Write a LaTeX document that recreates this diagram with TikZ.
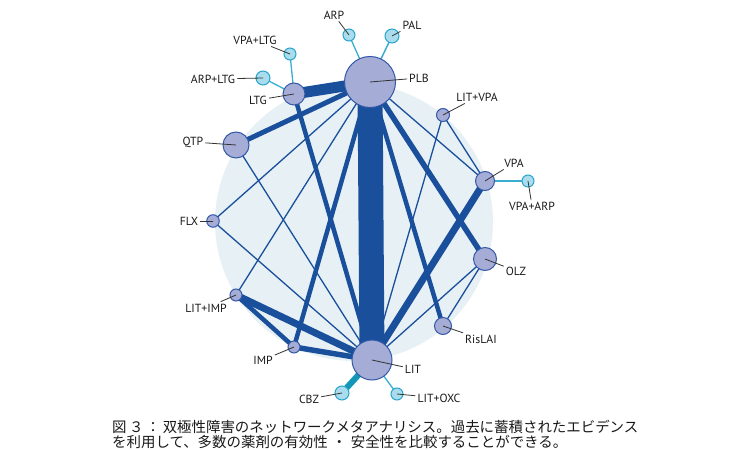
\documentclass[tikz,border=0pt]{standalone}
\usepackage{fontspec}
\setmainfont{PT Sans}
\newfontfamily\jpfont{Noto Sans CJK JP}
\usepackage{xcolor}
\definecolor{netblue}{HTML}{1A4F9C}
\definecolor{nodefill}{HTML}{A5ACD6}
\definecolor{nodeline}{HTML}{3358A8}
\definecolor{addfill}{HTML}{A9DCEC}
\definecolor{addline}{HTML}{2AA4CA}
\definecolor{addedge}{HTML}{3AAED0}
\definecolor{tealedge}{HTML}{1397B8}
\definecolor{backcirc}{HTML}{E7F1F5}
\pgfdeclarelayer{back}
\pgfdeclarelayer{edges}
\pgfsetlayers{back,edges,main}
\tikzset{
  drug/.style={circle,fill=nodefill,draw=nodeline,line width=1bp,inner sep=0pt},
  adddrug/.style={circle,fill=addfill,draw=addline,line width=1bp,inner sep=0pt},
  link/.style={draw=netblue,line width=#1},
  link/.default=1.3bp,
  addlink/.style={draw=addedge,line width=#1},
  addlink/.default=1.3bp,
  lab/.style={font=\fontsize{11.8}{13}\selectfont,text=black!90,inner sep=2bp},
  lead/.style={draw=black!80,line width=0.8bp}
}

\begin{document}
\begin{tikzpicture}[x=1bp,y=-1bp]
\useasboundingbox (0,0) rectangle (750,450);

% treatments
\node[drug,minimum size=51bp] (PLB) at (370,82) {};
\node[drug,minimum size=40bp] (LIT) at (372,360) {};
\node[drug,minimum size=22bp] (LTG) at (294,94) {};
\node[drug,minimum size=26bp] (QTP) at (236,145) {};
\node[drug,minimum size=12.5bp] (FLX) at (213,221) {};
\node[drug,minimum size=12bp] (LITIMP) at (236,295) {};
\node[drug,minimum size=12bp] (IMP) at (294,347) {};
\node[drug,minimum size=13bp] (LITVPA) at (443,115) {};
\node[drug,minimum size=19bp] (VPA) at (485,181) {};
\node[drug,minimum size=23bp] (OLZ) at (485,259) {};
\node[drug,minimum size=17bp] (RisLAI) at (443,326) {};
\node[adddrug,minimum size=12bp] (ARP) at (349,35) {};
\node[adddrug,minimum size=14bp] (PAL) at (392,36) {};
\node[adddrug,minimum size=12bp] (VPALTG) at (290,54) {};
\node[adddrug,minimum size=14bp] (ARPLTG) at (263,78) {};
\node[adddrug,minimum size=12bp] (VPAARP) at (528,181) {};
\node[adddrug,minimum size=14bp] (CBZ) at (342,393) {};
\node[adddrug,minimum size=12bp] (LITOXC) at (397,394) {};

\begin{pgfonlayer}{back}
\fill[backcirc] (354,222) circle[radius=139bp];
\end{pgfonlayer}

\begin{pgfonlayer}{edges}
\draw[link=25bp] (PLB.center) -- (LIT.center);
\draw[link=11bp] (PLB.center) -- (LTG.center);
\draw[link=5bp] (PLB.center) -- (QTP.center);
\draw[link] (PLB.center) -- (FLX.center);
\draw[link] (PLB.center) -- (LITIMP.center);
\draw[link=4.5bp] (PLB.center) -- (IMP.center);
\draw[link] (PLB.center) -- (VPA.center);
\draw[link=5.5bp] (PLB.center) -- (OLZ.center);
\draw[link=4.5bp] (PLB.center) -- (RisLAI.center);
\draw[link=4.5bp] (LTG.center) -- (LIT.center);
\draw[link] (QTP.center) -- (LIT.center);
\draw[link] (FLX.center) -- (LIT.center);
\draw[link=7bp] (LITIMP.center) -- (LIT.center);
\draw[link=4.5bp] (LITIMP.center) -- (IMP.center);
\draw[link=5.5bp] (IMP.center) -- (LIT.center);
\draw[link] (LITVPA.center) -- (VPA.center);
\draw[link] (LITVPA.center) -- (LIT.center);
\draw[link=7bp] (VPA.center) -- (LIT.center);
\draw[link] (OLZ.center) -- (LIT.center);
\draw[link] (OLZ.center) -- (RisLAI.center);
% add-on arms
\draw[addlink] (PLB.center) -- (ARP.center);
\draw[addlink=1.5bp] (PLB.center) -- (PAL.center);
\draw[addlink] (LTG.center) -- (VPALTG.center);
\draw[addlink] (LTG.center) -- (ARPLTG.center);
\draw[addlink=1.5bp] (VPA.center) -- (VPAARP.center);
\draw[draw=tealedge,line width=6bp] (LIT.center) -- (CBZ.center);
\draw[addlink] (LIT.center) -- (LITOXC.center);
\end{pgfonlayer}

% labels
\node[lab] (tPLB) at (419,78) {PLB};
\node[lab] (tLIT) at (413,369) {LIT};
\node[lab] (tLTG) at (258,100) {LTG};
\node[lab] (tQTP) at (193,142) {QTP};
\node[lab] (tFLX) at (189,221) {FLX};
\node[lab] (tLITIMP) at (206,308) {LIT+IMP};
\node[lab] (tIMP) at (263,360) {IMP};
\node[lab] (tLITVPA) at (477,97) {LIT+VPA};
\node[lab] (tVPA) at (514,163) {VPA};
\node[lab] (tOLZ) at (516,271) {OLZ};
\node[lab] (tRisLAI) at (481,339) {RisLAI};
\node[lab] (tARP) at (334,15) {ARP};
\node[lab] (tPAL) at (412,25) {PAL};
\node[lab] (tVPALTG) at (255,40) {VPA+LTG};
\node[lab] (tARPLTG) at (213,79) {ARP+LTG};
\node[lab] (tVPAARP) at (532,206) {VPA+ARP};
\node[lab] (tCBZ) at (309,399) {CBZ};
\node[lab] (tLITOXC) at (439,398) {LIT+OXC};

\foreach \n in {PLB,LIT,LTG,QTP,FLX,LITIMP,IMP,LITVPA,VPA,OLZ,RisLAI,
  ARP,PAL,VPALTG,ARPLTG,VPAARP,CBZ,LITOXC}
  \draw[lead] (\n.center) -- (t\n);

\node[anchor=north west,align=left,inner sep=0pt,text=black!90,
  font=\jpfont\fontsize{14.5}{14.6}\selectfont] (caption) at (112,420)
  {図\,３\,：\,双極性障害のネットワークメタアナリシス。過去に蓄積されたエビデンス\\
   を利用して、多数の薬剤の有効性\hspace{0.3em}・\hspace{0.3em}安全性を比較することができる。};
\end{tikzpicture}
\end{document}
